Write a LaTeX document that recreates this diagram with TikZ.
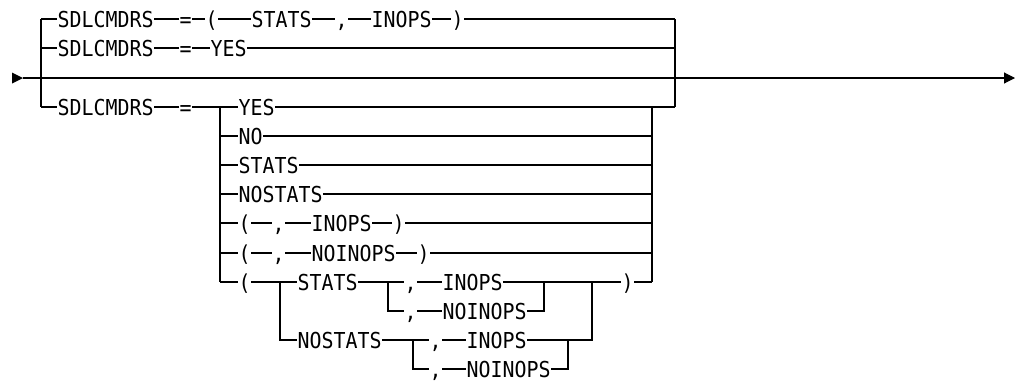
\documentclass[tikz,border=0pt]{standalone}
\usepackage{fontspec}
\newfontfamily\synfont[FakeStretch=0.908]{DejaVu Sans Mono}
\usetikzlibrary{arrows.meta}
\tikzset{
  tok/.style={font=\synfont\fontsize{21.95}{26}\selectfont, inner xsep=0pt, inner ysep=1pt,
    text height=16pt, text depth=0pt, anchor=west},
}
\begin{document}
\begin{tikzpicture}[x=1pt, y=-1pt, line width=1.1pt]
    \useasboundingbox (0,0) rectangle (1017,381);
    % main line
    \coordinate (start) at (23,78);
    \coordinate (stop) at (1015,78);
    \fill (start) -- ++(-11,-5.5) -- ++(0,11) -- cycle;
    \draw[-{Triangle[length=11pt,width=11pt]}] (start) -- (stop);
    % outer brackets
    \coordinate (lA) at (41,19);  \coordinate (lC) at (41,107);
    \coordinate (rA) at (675,19); \coordinate (rB) at (675,48); \coordinate (rC) at (675,107);
    \draw (lA) -- (lC);
    \draw (rA) -- (rC);
    % first row
    \node[tok] (a1) at (57,19) {SDLCMDRS};
    \node[tok] (a2) at (179,19) {=};
    \node[tok] (a3) at (205,19) {(};
    \node[tok] (a4) at (251,19) {STATS};
    \node[tok] (a5) at (335,19) {,};
    \node[tok] (a6) at (371,19) {INOPS};
    \node[tok] (a7) at (451,19) {)};
    \draw (lA) -- (a1) (a1) -- (a2) (a2) -- (a3) (a3) -- (a4) (a4) -- (a5) (a5) -- (a6) (a6) -- (a7) (a7) -- (rA);
    % second row
    \node[tok] (b1) at (57,48) {SDLCMDRS};
    \node[tok] (b2) at (179,48) {=};
    \node[tok] (b3) at (210,48) {YES};
    \draw (lA |- b1) -- (b1) (b1) -- (b2) (b2) -- (b3) (b3) -- (rB);
    % third row
    \node[tok] (c1) at (57,107) {SDLCMDRS};
    \node[tok] (c2) at (179,107) {=};
    \coordinate (iA) at (220,107); \coordinate (iG) at (220,282);
    \coordinate (jA) at (652,107); \coordinate (jG) at (652,282);
    \draw (lC) -- (c1) (c1) -- (c2) (c2) -- (iA);
    \draw (iA) -- (iG) (jA) -- (jG) (jA) -- (rC);
    % simple values
    \foreach \name/\y/\txt in {o1/107/YES, o2/136/NO, o3/165/STATS, o4/194/NOSTATS}{
        \node[tok] (\name) at (238,\y) {\txt};
        \draw (iA |- \name) -- (\name) (\name) -- (jA |- \name);
    }
    % ( , INOPS )
    \node[tok] (o5a) at (238,223) {(};
    \node[tok] (o5b) at (272,223) {,};
    \node[tok] (o5c) at (311,223) {INOPS};
    \node[tok] (o5d) at (392,223) {)};
    \draw (iA |- o5a) -- (o5a) (o5a) -- (o5b) (o5b) -- (o5c) (o5c) -- (o5d) (o5d) -- (jA |- o5d);
    % ( , NOINOPS )
    \node[tok] (o6a) at (238,253) {(};
    \node[tok] (o6b) at (272,253) {,};
    \node[tok] (o6c) at (311,253) {NOINOPS};
    \node[tok] (o6d) at (417,253) {)};
    \draw (iA |- o6a) -- (o6a) (o6a) -- (o6b) (o6b) -- (o6c) (o6c) -- (o6d) (o6d) -- (jA |- o6d);
    % ( STATS|NOSTATS , INOPS|NOINOPS )
    \node[tok] (o7a) at (238,282) {(};
    \node[tok] (o7b) at (297,282) {STATS};
    \node[tok] (o7c) at (404,282) {,};
    \node[tok] (o7d) at (442,282) {INOPS};
    \node[tok] (o7e) at (404,311) {,};
    \node[tok] (o7f) at (442,311) {NOINOPS};
    \node[tok] (o7g) at (621,282) {)};
    \node[tok] (o8a) at (297,340) {NOSTATS};
    \node[tok] (o8b) at (429,340) {,};
    \node[tok] (o8c) at (466,340) {INOPS};
    \node[tok] (o8d) at (429,369) {,};
    \node[tok] (o8e) at (466,369) {NOINOPS};
    \coordinate (kA) at (280,282); \coordinate (kB) at (280,340);
    \coordinate (mA) at (388,282); \coordinate (nA) at (544,282);
    \coordinate (pA) at (592,282);
    \coordinate (qA) at (413,340); \coordinate (sA) at (568,340);
    \draw (iG) -- (o7a) (o7a) -- (kA) -- (o7b) (kA) -- (kB) -- (o8a);
    \draw (o7b) -- (mA) -- (o7c) (mA) |- (o7e) (o7c) -- (o7d) (o7e) -- (o7f);
    \draw (o7d) -- (nA) (o7f) -| (nA) (nA) -- (pA) -- (o7g) (o7g) -- (jG);
    \draw (o8a) -- (qA) -- (o8b) (qA) |- (o8d) (o8b) -- (o8c) (o8d) -- (o8e);
    \draw (o8c) -- (sA) (o8e) -| (sA) (sA) -| (pA);
\end{tikzpicture}
\end{document}
